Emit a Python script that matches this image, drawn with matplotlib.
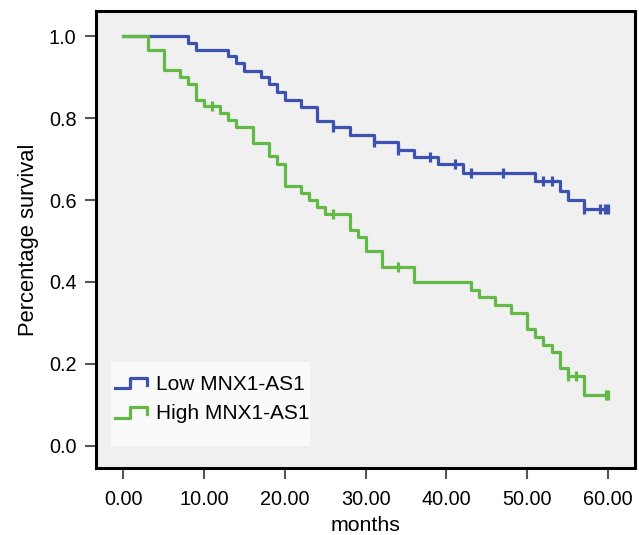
import matplotlib
matplotlib.use("Agg")
import matplotlib.pyplot as plt
from matplotlib.legend_handler import HandlerBase
from matplotlib.lines import Line2D
from matplotlib.patches import Rectangle

plt.rcParams['font.family'] = ['Liberation Sans', 'DejaVu Sans']

# Kaplan-Meier steps (time in months, survival fraction)
low_times = [0, 8, 9, 13, 14, 15, 17, 18, 19, 20, 22, 24, 26, 28, 31, 34, 36, 39, 42, 51, 54, 55, 57, 60]
low_surv = [1.0, 0.984, 0.965, 0.951, 0.933, 0.915, 0.899, 0.882, 0.864, 0.844, 0.827, 0.793, 0.777,
            0.759, 0.742, 0.723, 0.706, 0.688, 0.666, 0.647, 0.623, 0.600, 0.578, 0.578]
low_censor = [26, 31, 34, 38, 41, 43, 47, 52, 53, 57, 59, 59.6, 60]

high_times = [0, 3, 5, 7, 8, 9, 10, 12, 13, 14, 16, 18, 19, 20, 22, 23, 24, 25, 28, 29, 30, 32, 36,
              43, 44, 46, 48, 50, 51, 52, 53, 54, 55, 57, 60]
high_surv = [1.0, 0.966, 0.917, 0.899, 0.882, 0.844, 0.830, 0.813, 0.795, 0.777, 0.740, 0.708, 0.688,
             0.635, 0.616, 0.599, 0.582, 0.566, 0.526, 0.509, 0.475, 0.437, 0.400, 0.380, 0.363,
             0.343, 0.324, 0.286, 0.266, 0.246, 0.229, 0.189, 0.171, 0.124, 0.124]
high_censor = [11, 26, 34, 55, 56, 59.7, 60]

x_ticks = [0, 10, 20, 30, 40, 50, 60]
y_ticks = [0.0, 0.2, 0.4, 0.6, 0.8, 1.0]

blue = '#3d52b0'
green = '#62b946'


def surv_at(times, surv, t):
    # value of the step function just after time t
    val = surv[0]
    for tt, s in zip(times, surv):
        if tt <= t:
            val = s
    return val


class StepHandler(HandlerBase):
    def create_artists(self, legend, orig_handle, xdescent, ydescent, width, height, fontsize, trans):
        w, h = width, height
        xs = [-xdescent, -xdescent + 0.45 * w, -xdescent + 0.45 * w, -xdescent + w, -xdescent + w]
        ys = [-ydescent + 0.1 * h, -ydescent + 0.1 * h, -ydescent + 0.85 * h, -ydescent + 0.85 * h,
              -ydescent + 0.35 * h]
        ln = Line2D(xs, ys, color=orig_handle.get_color(), lw=2.3)
        ln.set_transform(trans)
        return [ln]


fig = plt.figure(figsize=(6.39, 5.35), dpi=100)
ax = fig.add_axes([0.1502, 0.1258, 0.8435, 0.8536])
ax.set_facecolor('#f0f0f0')

l1, = ax.step(low_times, low_surv, where='post', color=blue, lw=2.3, label='Low MNX1-AS1')
l2, = ax.step(high_times, high_surv, where='post', color=green, lw=2.3, label='High MNX1-AS1')
ax.plot(low_censor, [surv_at(low_times, low_surv, t) for t in low_censor], ls='none',
        marker='|', ms=7, mew=2.3, color=blue)
ax.plot(high_censor, [surv_at(high_times, high_surv, t) for t in high_censor], ls='none',
        marker='|', ms=7, mew=2.3, color=green)

ax.set_xlim(-3.38, 63.33)
ax.set_ylim(-0.053, 1.061)
ax.set_xticks(x_ticks)
ax.set_xticklabels([f'{v:.2f}' for v in x_ticks])
ax.set_yticks(y_ticks)
ax.set_yticklabels([f'{v:.1f}' for v in y_ticks])
ax.tick_params(labelsize=14.3, length=8, width=1.5, color='#555555')
ax.tick_params(axis='x', pad=8)
ax.tick_params(axis='y', pad=6)
for sp in ax.spines.values():
    sp.set_linewidth(2.2)
    sp.set_color('black')

ax.set_xlabel('months', fontsize=15.3, labelpad=5)
ax.set_ylabel('Percentage survival', fontsize=15.8, labelpad=7)

ax.add_patch(Rectangle((0.028, 0.0475), 0.369, 0.1846, transform=ax.transAxes,
                       facecolor='#fafafa', edgecolor='none', zorder=3))
ax.legend(handles=[l1, l2], handler_map={Line2D: StepHandler()}, loc='upper left',
          bbox_to_anchor=(0.016, 0.226), frameon=False, fontsize=15,
          handlelength=1.55, handletextpad=0.4, labelspacing=0.5, borderaxespad=0,
          borderpad=0.5).set_zorder(4)

fig.savefig('out.png', dpi=100)
